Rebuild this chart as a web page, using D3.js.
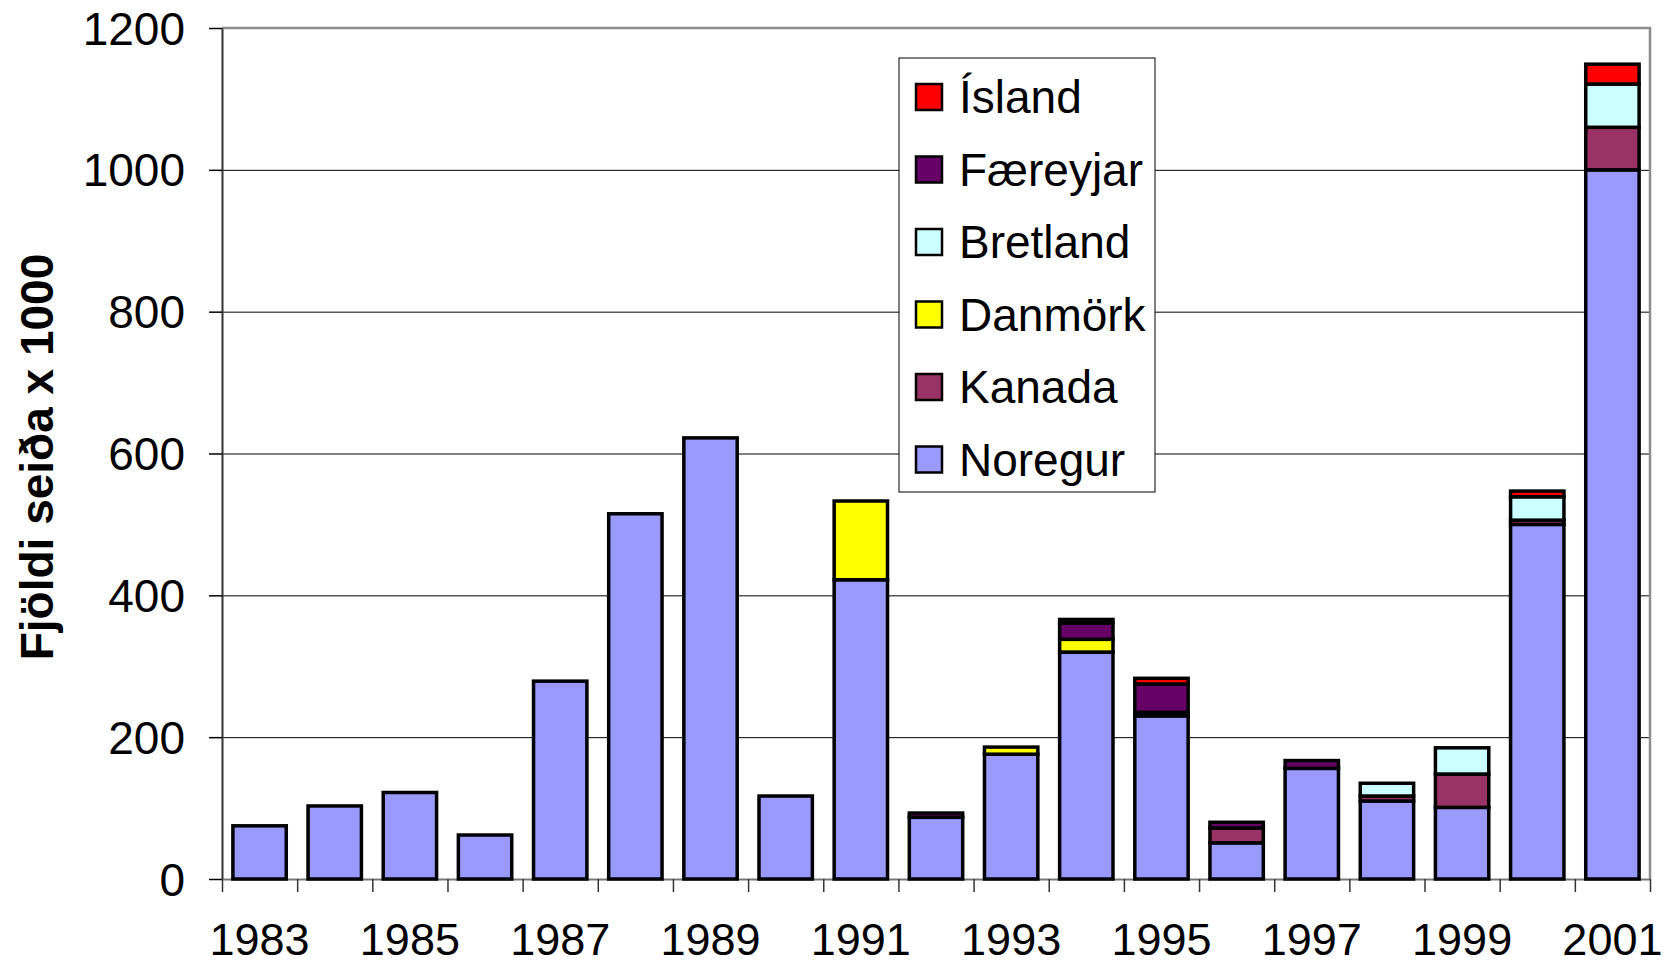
<!DOCTYPE html>
<html>
<head>
  <meta charset="utf-8">
  <script src="https://cdn.jsdelivr.net/npm/d3@7"></script>
  <style>
    body { margin: 0; background: #fff; font-family: Arial, "Liberation Sans", sans-serif; }
  </style>
</head>
<body>
  <svg id="chart" width="1672" height="966"></svg>
  <script>
    const years = ['1983','1984','1985','1986','1987','1988','1989','1990','1991','1992',
                   '1993','1994','1995','1996','1997','1998','1999','2000','2001'];
    // series from bottom to top
    const seriesNames = ['Noregur','Kanada','Danmörk','Bretland','Færeyjar','Ísland'];
    const noregur  = [75, 103, 122, 62, 279, 515, 622, 117, 422, 87, 176, 320, 230, 51, 156, 110, 101, 500, 1000];
    const kanada   = [0, 0, 0, 0, 0, 0, 0, 0, 0, 0, 0, 0, 5, 21, 0, 7, 47, 6, 60];
    const danmork  = [0, 0, 0, 0, 0, 0, 0, 0, 111, 0, 10, 18, 0, 0, 0, 0, 0, 0, 0];
    const bretland = [0, 0, 0, 0, 0, 0, 0, 0, 0, 0, 0, 0, 0, 0, 0, 18, 37, 33, 61];
    const faereyjar= [0, 0, 0, 0, 0, 0, 0, 0, 0, 6, 0, 23, 40, 8, 11, 0, 0, 0, 0];
    const island   = [0, 0, 0, 0, 0, 0, 0, 0, 0, 0, 0, 5, 8, 0, 0, 0, 0, 8, 28];
    const colors = ['#9999FF','#993366','#FFFF00','#CCFFFF','#660066','#FF0000'];
    const yTicks = [0, 200, 400, 600, 800, 1000, 1200];
    const yTitle = 'Fjöldi seiða x 1000';

    const cols = [noregur, kanada, danmork, bretland, faereyjar, island];
    const table = years.map((yr, i) => {
      const row = { year: yr };
      seriesNames.forEach((s, k) => row[s] = cols[k][i]);
      return row;
    });

    const svg = d3.select('#chart');
    const plotL = 222, plotR = 1650, plotT = 28, plotB = 879;

    const x = d3.scaleBand().domain(years).range([plotL, plotR])
      .paddingInner(0.29).paddingOuter(0.145);
    const y = d3.scaleLinear().domain([0, 1200]).range([plotB, plotT]);

    // gridlines
    svg.append('g')
      .attr('transform', `translate(${plotL},0)`)
      .call(d3.axisLeft(y).tickValues(yTicks.slice(1, -1)).tickSize(-(plotR - plotL)).tickFormat(''))
      .call(g => g.select('.domain').remove())
      .call(g => g.selectAll('line').attr('stroke', '#000').attr('stroke-width', 1));

    // plot border (top, right)
    svg.append('path')
      .attr('d', `M${plotL},${plotT}H${plotR}V${plotB}`)
      .attr('fill', 'none').attr('stroke', '#8c8c8c').attr('stroke-width', 2.5);

    // y axis
    const yAxis = svg.append('g')
      .attr('transform', `translate(${plotL},0)`)
      .call(d3.axisLeft(y).tickValues(yTicks).tickSize(13).tickPadding(24).tickSizeOuter(0)
        .tickFormat(d3.format('d')));
    yAxis.select('.domain').attr('stroke', '#333').attr('stroke-width', 2);
    yAxis.selectAll('line').attr('stroke', '#000').attr('stroke-width', 1.5);
    yAxis.selectAll('text')
      .attr('font-size', 46).attr('fill', '#000')
      .attr('font-family', 'Arial, "Liberation Sans", sans-serif')
      .attr('dy', '0.35em');

    // x axis: ticks at category boundaries
    const xb = d3.scaleLinear().domain([0, years.length]).range([plotL, plotR]);
    const xAxis = svg.append('g')
      .attr('transform', `translate(0,${plotB})`)
      .call(d3.axisBottom(xb).tickValues(d3.range(0, years.length + 1)).tickSize(13).tickFormat('').tickSizeOuter(0));
    xAxis.select('.domain').attr('stroke', '#777').attr('stroke-width', 2);
    xAxis.selectAll('line').attr('stroke', '#333').attr('stroke-width', 1.5);

    // year labels, every other
    svg.append('g').selectAll('text')
      .data(years.filter((d, i) => i % 2 === 0))
      .enter().append('text')
      .attr('x', d => x(d) + x.bandwidth() / 2)
      .attr('y', 955)
      .attr('text-anchor', 'middle')
      .attr('font-size', 45)
      .text(d => d);

    // stacked bars
    const stack = d3.stack().keys(seriesNames)(table);
    svg.append('g').selectAll('g')
      .data(stack)
      .enter().append('g')
      .attr('fill', (d, k) => colors[k])
      .selectAll('rect')
      .data(d => d.filter(p => p[1] - p[0] > 0))
      .enter().append('rect')
      .attr('x', d => x(d.data.year))
      .attr('width', x.bandwidth())
      .attr('y', d => y(d[1]))
      .attr('height', d => y(d[0]) - y(d[1]))
      .attr('stroke', '#000')
      .attr('stroke-width', 3.5);

    // y title
    svg.append('text')
      .attr('transform', 'translate(53,457) rotate(-90)')
      .attr('text-anchor', 'middle')
      .attr('font-size', 46)
      .attr('font-weight', 'bold')
      .text(yTitle);

    // legend
    const legend = svg.append('g');
    legend.append('rect')
      .attr('x', 899).attr('y', 58).attr('width', 256).attr('height', 434)
      .attr('fill', '#fff').attr('stroke', '#000').attr('stroke-width', 1);
    const legendOrder = seriesNames.slice().reverse();
    const items = legend.selectAll('g.item')
      .data(legendOrder)
      .enter().append('g')
      .attr('transform', (d, i) => `translate(0,${97 + i * 72.5})`);
    items.append('rect')
      .attr('x', 916).attr('y', -13).attr('width', 26).attr('height', 26)
      .attr('fill', d => colors[seriesNames.indexOf(d)])
      .attr('stroke', '#000').attr('stroke-width', 2.5);
    items.append('text')
      .attr('x', 959).attr('y', 16)
      .attr('font-size', 46)
      .text(d => d);
  </script>
</body>
</html>
